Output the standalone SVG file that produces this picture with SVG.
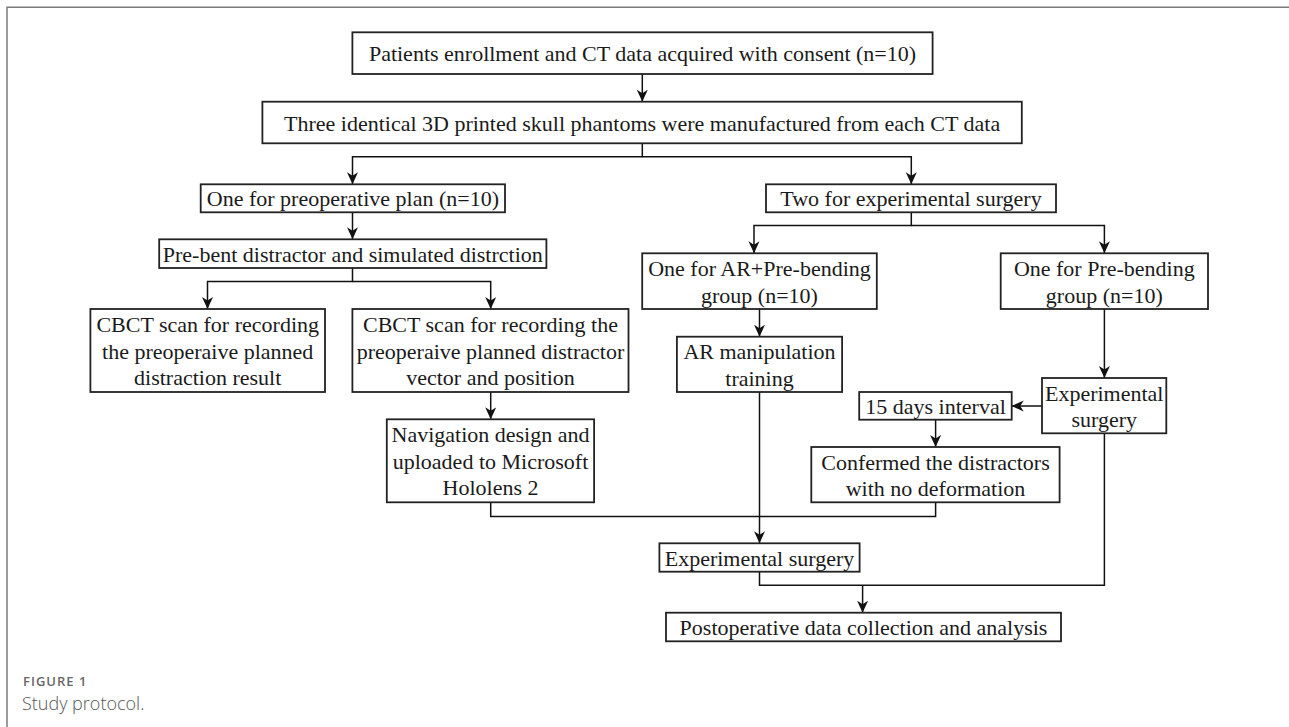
<svg xmlns="http://www.w3.org/2000/svg" width="1289" height="727" viewBox="0 0 1289 727">
<style>
.box{fill:#fff;stroke:#222;stroke-width:1.8}
.t{font-family:"Liberation Serif","Times New Roman",serif;font-size:22px;fill:#1a1a1a;text-anchor:middle}
.c{fill:none;stroke:#111;stroke-width:1.5}
.frame{stroke:#7a7a7a;stroke-width:1.5;fill:none}
.cap1{font-family:"Open Sans","Noto Sans",sans-serif;font-size:13px;font-weight:600;letter-spacing:1px;fill:#666}
.cap2{font-family:"Open Sans","Noto Sans",sans-serif;font-size:18px;font-weight:300;fill:#555}
</style>
<defs>
<marker id="ah" markerUnits="userSpaceOnUse" markerWidth="13" markerHeight="12" refX="12" refY="5.5" orient="auto">
<path d="M0,0 L12,5.5 L0,11 L3.5,5.5 z" fill="#111"/>
</marker>
</defs>
<rect width="1289" height="727" fill="#fff"/>
<path class="frame" d="M7,727 V7.3 H1289"/>

<g id="connectors">
<path class="c" d="M642.3,74 V101.7" marker-end="url(#ah)"/>
<path class="c" d="M642.3,143.3 V156.7 H352.5 V184.3" marker-end="url(#ah)"/>
<path class="c" d="M642.3,156.7 H911.3 V184.3" marker-end="url(#ah)"/>
<path class="c" d="M352.5,212.3 V239.3" marker-end="url(#ah)"/>
<path class="c" d="M352.5,268 V281.5 H207.5 V309" marker-end="url(#ah)"/>
<path class="c" d="M352.5,281.5 H490.7 V309" marker-end="url(#ah)"/>
<path class="c" d="M911.3,212.3 V225.5 H754 V253.3" marker-end="url(#ah)"/>
<path class="c" d="M911.3,225.5 H1104.4 V253.3" marker-end="url(#ah)"/>
<path class="c" d="M759.5,309 V336.7" marker-end="url(#ah)"/>
<path class="c" d="M490.7,392 V419.3" marker-end="url(#ah)"/>
<path class="c" d="M1104.4,309 V378" marker-end="url(#ah)"/>
<path class="c" d="M1042,406 H1011.7" marker-end="url(#ah)"/>
<path class="c" d="M935.6,419.7 V447" marker-end="url(#ah)"/>
<path class="c" d="M490.7,502.3 V516.5 H935.6 V502.3"/>
<path class="c" d="M759.5,392 V543.3" marker-end="url(#ah)"/>
<path class="c" d="M759.5,571.7 V585.3 H1104.4 V433.3"/>
<path class="c" d="M862.6,585.3 V612.7" marker-end="url(#ah)"/>
</g>

<g id="n1"><rect class="box" x="352.4" y="32.3" width="580.2" height="41.7"/>
<text class="t" x="642.5" y="61.2">Patients enrollment and CT data acquired with consent (n=10)</text></g>

<g id="n2"><rect class="box" x="262.4" y="101.7" width="759.4" height="41.6"/>
<text class="t" x="642.1" y="130.5">Three identical 3D printed skull phantoms were manufactured from each CT data</text></g>

<g id="n3"><rect class="box" x="200.7" y="184.3" width="304.3" height="28"/>
<text class="t" x="352.9" y="206.3">One for preoperative plan (n=10)</text></g>

<g id="n4"><rect class="box" x="766" y="184.3" width="290" height="28"/>
<text class="t" x="911" y="206.3">Two for experimental surgery</text></g>

<g id="n5"><rect class="box" x="159.2" y="239.3" width="387.2" height="28.7"/>
<text class="t" x="352.8" y="261.7">Pre-bent distractor and simulated distrction</text></g>

<g id="n6"><rect class="box" x="642.2" y="253.3" width="234.6" height="55.7"/>
<text class="t" x="759.5" y="276">One for AR+Pre-bending</text>
<text class="t" x="759.5" y="302.5">group (n=10)</text></g>

<g id="n7"><rect class="box" x="1000.7" y="253.3" width="207.3" height="55.7"/>
<text class="t" x="1104.3" y="276">One for Pre-bending</text>
<text class="t" x="1104.3" y="302.5">group (n=10)</text></g>

<g id="n8"><rect class="box" x="90.4" y="309" width="234.6" height="83"/>
<text class="t" x="207.7" y="332">CBCT scan for recording</text>
<text class="t" x="207.7" y="358.5">the preoperaive planned</text>
<text class="t" x="207.7" y="385">distraction result</text></g>

<g id="n9"><rect class="box" x="352.4" y="309" width="276.1" height="83"/>
<text class="t" x="490.5" y="332">CBCT scan for recording the</text>
<text class="t" x="490.5" y="358.5">preoperaive planned distractor</text>
<text class="t" x="490.5" y="385">vector and position</text></g>

<g id="n10"><rect class="box" x="676.9" y="336.7" width="165.2" height="55.3"/>
<text class="t" x="759.5" y="359">AR manipulation</text>
<text class="t" x="759.5" y="385.6">training</text></g>

<g id="n11"><rect class="box" x="1042" y="378" width="124.3" height="55.3"/>
<text class="t" x="1104.2" y="400.5">Experimental</text>
<text class="t" x="1104.2" y="427">surgery</text></g>

<g id="n12"><rect class="box" x="859.2" y="392" width="152.5" height="27.7"/>
<text class="t" x="935.5" y="413.8">15 days interval</text></g>

<g id="n13"><rect class="box" x="386.8" y="419.3" width="207.3" height="83"/>
<text class="t" x="490.5" y="442.3">Navigation design and</text>
<text class="t" x="490.5" y="468.8">uploaded to Microsoft</text>
<text class="t" x="490.5" y="495.3">Hololens 2</text></g>

<g id="n14"><rect class="box" x="811.3" y="447" width="248.3" height="55.3"/>
<text class="t" x="935.5" y="469.5">Confermed the distractors</text>
<text class="t" x="935.5" y="496">with no deformation</text></g>

<g id="n15"><rect class="box" x="659.4" y="543.3" width="200.2" height="28.4"/>
<text class="t" x="759.5" y="565.5">Experimental surgery</text></g>

<g id="n16"><rect class="box" x="666" y="612.7" width="395" height="28.6"/>
<text class="t" x="863.5" y="635">Postoperative data collection and analysis</text></g>

<text class="cap1" x="23" y="686">FIGURE 1</text>
<text class="cap2" x="22" y="709.5">Study protocol.</text>
</svg>
